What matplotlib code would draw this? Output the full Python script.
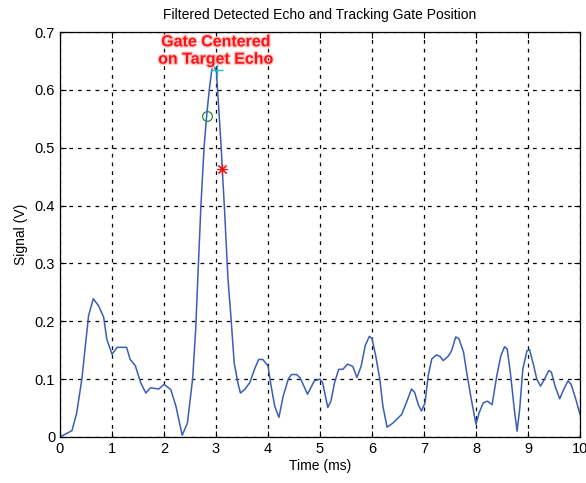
import matplotlib.pyplot as plt
import matplotlib.patheffects as pe

plt.rcParams['font.family'] = ['Liberation Sans', 'DejaVu Sans']

# echo trace (time in ms, signal in V)
t_ms = [0.0, 0.23, 0.32, 0.42, 0.55, 0.64, 0.74, 0.84, 0.90, 1.0, 1.10, 1.19, 1.28,
        1.35, 1.45, 1.55, 1.65, 1.74, 1.90, 2.0, 2.13, 2.23, 2.35, 2.45, 2.55, 2.61,
        2.65, 2.71, 2.77, 2.82, 2.87, 2.93, 2.97, 3.01, 3.03, 3.10, 3.12, 3.16, 3.23,
        3.29, 3.35, 3.42, 3.47, 3.55, 3.65, 3.74, 3.82, 3.90, 4.0, 4.06, 4.13, 4.21,
        4.29, 4.39, 4.45, 4.55, 4.62, 4.76, 4.89, 5.0, 5.05, 5.15, 5.21, 5.28, 5.36,
        5.44, 5.53, 5.63, 5.71, 5.79, 5.87, 5.95, 6.0, 6.07, 6.15, 6.21, 6.29, 6.40,
        6.57, 6.66, 6.76, 6.82, 6.89, 6.95, 7.02, 7.08, 7.15, 7.24, 7.31, 7.37, 7.47,
        7.53, 7.61, 7.67, 7.76, 7.82, 7.91, 8.0, 8.06, 8.14, 8.22, 8.31, 8.40, 8.48,
        8.55, 8.60, 8.66, 8.74, 8.79, 8.84, 8.90, 8.98, 9.03, 9.11, 9.17, 9.24, 9.30,
        9.40, 9.45, 9.52, 9.61, 9.69, 9.77, 9.83, 9.92, 10.0]
signal = [0.0, 0.011, 0.041, 0.10, 0.21, 0.239, 0.227, 0.207, 0.169, 0.143, 0.155, 0.155, 0.155,
          0.134, 0.123, 0.094, 0.076, 0.085, 0.083, 0.091, 0.082, 0.053, 0.003, 0.024, 0.10, 0.187,
          0.274, 0.40, 0.50, 0.555, 0.60, 0.642, 0.64, 0.63, 0.60, 0.50, 0.463, 0.40, 0.274,
          0.204, 0.128, 0.094, 0.076, 0.082, 0.094, 0.117, 0.134, 0.134, 0.123, 0.088, 0.053, 0.034,
          0.070, 0.10, 0.108, 0.108, 0.102, 0.074, 0.097, 0.10, 0.094, 0.051, 0.062, 0.094, 0.117,
          0.117, 0.126, 0.122, 0.103, 0.122, 0.158, 0.174, 0.17, 0.141, 0.10, 0.053, 0.017, 0.024,
          0.039, 0.059, 0.083, 0.077, 0.056, 0.045, 0.059, 0.106, 0.135, 0.142, 0.139, 0.132, 0.140,
          0.149, 0.173, 0.17, 0.147, 0.112, 0.065, 0.022, 0.042, 0.059, 0.062, 0.056, 0.106, 0.141,
          0.156, 0.152, 0.112, 0.045, 0.01, 0.048, 0.117, 0.149, 0.151, 0.123, 0.10, 0.088, 0.097,
          0.115, 0.112, 0.088, 0.066, 0.083, 0.097, 0.091, 0.065, 0.039]

# gate markers
early_gate = (2.82, 0.555)
peak_gate = (3.01, 0.634)
late_gate = (3.12, 0.463)

fig = plt.figure(figsize=(5.86, 4.83), dpi=100)
ax = fig.add_axes([60 / 586, 1 - 437 / 483, 520 / 586, 405 / 483])

ax.plot(t_ms, signal, color='#3a5db6', linewidth=1.1)
ax.plot(*early_gate, 'o', mfc='none', mec='#1e8a3c', ms=7, mew=0.9)
ax.plot(*peak_gate, '+', color='#22b8c8', ms=9, mew=1.0)
ax.plot(*late_gate, marker=(8, 2, 0), color='#ee1111', ms=8, mew=0.8, ls='none')

ax.text(3.0, 0.668, 'Gate Centered\non Target Echo', color='#ff1010',
        fontsize=11.5, fontweight='bold', ha='center', va='center', linespacing=1.2,
        path_effects=[pe.withStroke(linewidth=2, foreground='#ffc8c8')])

ax.set_xlim(0, 10)
ax.set_ylim(0, 0.7)
ax.set_xticks(range(0, 11))
ax.set_yticks([0, 0.1, 0.2, 0.3, 0.4, 0.5, 0.6, 0.7])
ax.set_yticklabels(['0', '0.1', '0.2', '0.3', '0.4', '0.5', '0.6', '0.7'])
ax.grid(True, color='black', linestyle=(0, (3, 4)), linewidth=0.9)
ax.tick_params(direction='in', top=True, right=True, labelsize=10.5, length=4)
for s in ax.spines.values():
    s.set_linewidth(0.9)

ax.set_title('Filtered Detected Echo and Tracking Gate Position', fontsize=10, pad=9)
ax.set_xlabel('Time (ms)', fontsize=10, labelpad=2)
ax.set_ylabel('Signal (V)', fontsize=10, labelpad=5)

fig.savefig('out.png', dpi=100)
